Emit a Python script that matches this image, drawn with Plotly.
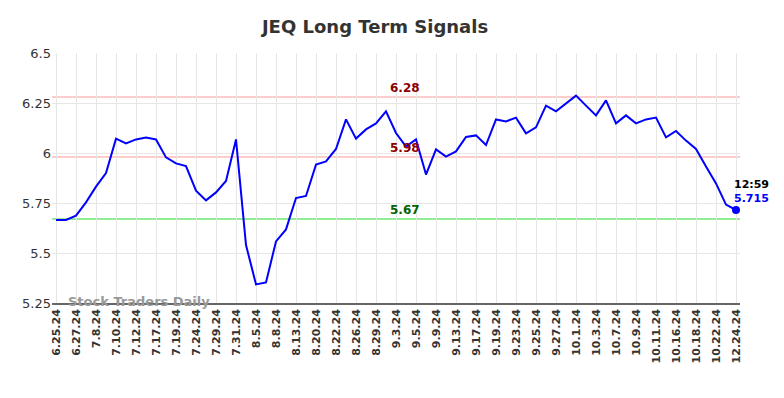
import plotly.graph_objects as go

tick_labels = ["6.25.24", "6.27.24", "7.8.24", "7.10.24", "7.12.24", "7.17.24", "7.19.24",
               "7.24.24", "7.29.24", "7.31.24", "8.5.24", "8.8.24", "8.13.24", "8.20.24",
               "8.22.24", "8.26.24", "8.29.24", "9.3.24", "9.5.24", "9.9.24", "9.13.24",
               "9.17.24", "9.19.24", "9.23.24", "9.25.24", "9.27.24", "10.1.24", "10.3.24",
               "10.7.24", "10.9.24", "10.11.24", "10.16.24", "10.18.24", "10.22.24", "12.24.24"]

prices = [5.665, 5.665, 5.687, 5.753, 5.832, 5.90, 6.072, 6.048, 6.068, 6.077,
          6.068, 5.978, 5.948, 5.935, 5.812, 5.763, 5.803, 5.86, 6.068, 5.54,
          5.343, 5.353, 5.558, 5.618, 5.775, 5.785, 5.942, 5.958, 6.02, 6.168,
          6.072, 6.118, 6.148, 6.208, 6.10, 6.032, 6.068, 5.892, 6.018, 5.982,
          6.008, 6.08, 6.088, 6.04, 6.168, 6.158, 6.177, 6.098, 6.128, 6.237,
          6.208, 6.248, 6.287, 6.237, 6.188, 6.263, 6.148, 6.188, 6.148, 6.168,
          6.177, 6.078, 6.11, 6.062, 6.02, 5.932, 5.848, 5.742, 5.715]

resistance_levels = [6.28, 5.98]
support_levels = [5.67]
last_time = "12:59"
last_price = 5.715

x_idx = list(range(len(prices)))
tick_idx = list(range(0, len(prices), 2))

fig = go.Figure()
for lv in resistance_levels:
    fig.add_hline(y=lv, line=dict(color="#ffcccc", width=2), layer="below")
for lv in support_levels:
    fig.add_hline(y=lv, line=dict(color="#90ee90", width=2), layer="below")

fig.add_trace(go.Scatter(x=x_idx, y=prices, mode="lines",
                         line=dict(color="#0000ff", width=2), hoverinfo="skip"))
fig.add_trace(go.Scatter(x=[x_idx[-1]], y=[last_price], mode="markers",
                         marker=dict(color="#0000ff", size=8), hoverinfo="skip"))

mid_x = 34.9
for lv in resistance_levels:
    fig.add_annotation(x=mid_x, y=lv, text=f"<b>{lv:.2f}</b>", showarrow=False,
                       yanchor="bottom", yshift=0, font=dict(color="#8b0000", size=12,
                       family="DejaVu Sans"))
for lv in support_levels:
    fig.add_annotation(x=mid_x, y=lv, text=f"<b>{lv:.2f}</b>", showarrow=False,
                       yanchor="bottom", yshift=0, font=dict(color="#006400", size=12,
                       family="DejaVu Sans"))

fig.add_annotation(x=x_idx[-1], y=last_price, text=f"<b>{last_time}</b>", showarrow=False,
                   xanchor="left", yanchor="bottom", xshift=-4, yshift=17,
                   font=dict(color="#000000", size=11, family="DejaVu Sans"))
fig.add_annotation(x=x_idx[-1], y=last_price, text=f"<b>{last_price}</b>", showarrow=False,
                   xanchor="left", yanchor="bottom", xshift=-4, yshift=3,
                   font=dict(color="#0000ff", size=11, family="DejaVu Sans"))

fig.add_annotation(xref="paper", yref="paper", x=0.02, y=0.0, text="<b>Stock Traders Daily</b>",
                   showarrow=False, xanchor="left", yanchor="bottom", yshift=-8,
                   font=dict(color="#999999", size=13, family="DejaVu Sans"))

fig.update_layout(
    width=776, height=390,
    margin=dict(l=44, r=44, t=45, b=95),
    paper_bgcolor="white", plot_bgcolor="white",
    showlegend=False,
    title=dict(text="<b>JEQ Long Term Signals</b>", x=0.473, xanchor="center", y=0.951,
               yanchor="middle", font=dict(size=18, color="#333333", family="DejaVu Sans")),
    xaxis=dict(range=[-0.4, len(prices) - 0.6], tickmode="array", tickvals=tick_idx,
               ticktext=[f"<b>{t}</b>" for t in tick_labels], tickangle=-90,
               showgrid=True, gridcolor="#e6e6e6", gridwidth=1,
               showline=True, linecolor="#666666", linewidth=1.5,
               tickfont=dict(size=11, color="#333333", family="DejaVu Sans"),
               zeroline=False, ticks=""),
    yaxis=dict(range=[5.25, 6.5], tickmode="array", tickvals=[5.25, 5.5, 5.75, 6, 6.25, 6.5],
               ticktext=["5.25", "5.5", "5.75", "6", "6.25", "6.5"],
               showgrid=True, gridcolor="#e6e6e6", gridwidth=1, zeroline=False,
               tickfont=dict(size=13, color="#333333", family="DejaVu Sans"), ticks=""),
)

fig.write_html("out.html")
